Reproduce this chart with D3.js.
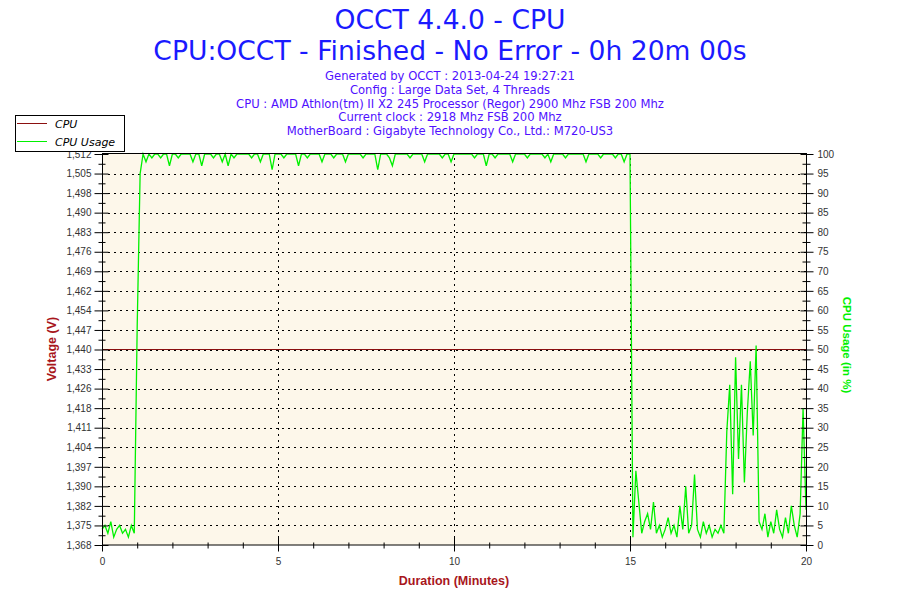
<!DOCTYPE html>
<html>
<head>
<meta charset="utf-8">
<script src="https://cdn.jsdelivr.net/npm/d3@7"></script>
<style>
  body { margin: 0; background: #fff; }
  svg text { font-family: "Liberation Sans", Arial, sans-serif; }
</style>
</head>
<body>
<div id="chart"></div>
<script>
// CPU usage in %, one reading every 5 seconds (0s .. 1200s)
const stepSeconds = 5;
const usage = [
  4, 5, 3, 6, 2, 4, 5, 3, 4, 2, 5, 3,
  56,
  95, 100, 98, 100, 99, 100, 100, 99, 100, 100,
  97, 100, 100, 99, 100, 100, 100, 100, 98, 100,
  100, 97, 100, 100, 100, 99, 100, 100, 98, 100,
  97, 100, 99, 100, 100, 100, 100, 100, 99, 100,
  100, 98, 100, 100, 100, 96, 100, 100, 100, 99,
  100, 100, 100, 100, 97, 100, 100, 99, 100, 100,
  100, 100, 98, 100, 100, 100, 99, 100, 100, 100,
  98, 100, 100, 100, 100, 100, 99, 100, 100, 100,
  100, 96, 100, 100, 100, 99, 97, 100, 100, 100,
  100, 100, 99, 100, 100, 100, 100, 98, 100, 100,
  100, 100, 100, 99, 100, 100, 98, 100, 100, 100,
  100, 100, 100, 100, 99, 100, 100, 100, 97, 100,
  100, 99, 100, 100, 100, 100, 100, 98, 100, 100,
  100, 100, 99, 100, 100, 100, 100, 100, 99, 100,
  98, 100, 100, 100, 100, 99, 100, 100, 100, 100,
  100, 100, 98, 100, 100, 100, 100, 99, 100, 100,
  100, 100, 99, 100, 100, 98, 100,
  100,
  2, 19, 11, 3, 6, 8, 4, 11, 3, 5,
  2, 4, 7, 3, 5, 2, 10, 4, 15, 3,
  5, 18, 4, 2, 6, 3, 5, 2, 4, 3,
  5, 3,
  29, 41, 13, 48, 22, 41, 16, 34, 47, 28, 51, 6,
  4, 8, 2, 6, 3, 9, 4, 2, 7, 3, 10, 5, 2, 8, 35, 9
];

// CPU core voltage (V)
const voltageMinutes = [0, 20];
const voltageValues = [1.440, 1.440];

const voltageTicks = [1.368, 1.3752, 1.3824, 1.3896, 1.3968, 1.404, 1.4112, 1.4184, 1.4256, 1.4328,
  1.440, 1.4472, 1.4544, 1.4616, 1.4688, 1.476, 1.4832, 1.4904, 1.4976, 1.5048, 1.512];
const voltageTickLabels = ["1,368", "1,375", "1,382", "1,390", "1,397", "1,404", "1,411", "1,418", "1,426", "1,433",
  "1,440", "1,447", "1,454", "1,462", "1,469", "1,476", "1,483", "1,490", "1,498", "1,505", "1,512"];
const usageTicks = [0, 5, 10, 15, 20, 25, 30, 35, 40, 45, 50, 55, 60, 65, 70, 75, 80, 85, 90, 95, 100];
const minuteTicks = [0, 5, 10, 15, 20];

const titleLines = ["OCCT 4.4.0 - CPU", "CPU:OCCT - Finished - No Error - 0h 20m 00s"];
const infoLines = [
  "Generated by OCCT : 2013-04-24 19:27:21",
  "Config : Large Data Set, 4 Threads",
  "CPU : AMD Athlon(tm) II X2 245 Processor (Regor) 2900 Mhz FSB 200 Mhz",
  "Current clock : 2918 Mhz FSB 200 Mhz",
  "MotherBoard : Gigabyte Technology Co., Ltd.: M720-US3"
];
const seriesNames = ["CPU", "CPU Usage"];

const W = 900, H = 600;
const plotLeft = 102, plotRight = 806, plotTop = 154, plotBottom = 545;
const voltColor = "#8b1010", usageColor = "#00f000", labelRed = "#a8161c";

const svg = d3.select("#chart").append("svg")
  .attr("width", W).attr("height", H);

const x = d3.scaleLinear().domain([0, 20]).range([plotLeft, plotRight]);
const yV = d3.scaleLinear().domain([1.368, 1.512]).range([plotBottom, plotTop]);
const yU = d3.scaleLinear().domain([0, 100]).range([plotBottom, plotTop]);

// plot background
svg.append("rect")
  .attr("x", plotLeft).attr("y", plotTop)
  .attr("width", plotRight - plotLeft).attr("height", plotBottom - plotTop)
  .attr("fill", "#fdf7ea");

// dotted grid
const grid = svg.append("g")
  .attr("stroke", "#000").attr("stroke-width", 1)
  .attr("stroke-dasharray", "1.5 4.5")
  .attr("shape-rendering", "crispEdges");
grid.selectAll("line.h")
  .data(voltageTicks.slice(1, -1))
  .enter().append("line")
  .attr("x1", plotLeft + 6).attr("x2", plotRight)
  .attr("y1", d => Math.round(yV(d)) + 0.5)
  .attr("y2", d => Math.round(yV(d)) + 0.5);
grid.selectAll("line.v")
  .data(minuteTicks.slice(1, -1))
  .enter().append("line")
  .attr("y1", plotTop + 4).attr("y2", plotBottom)
  .attr("x1", d => Math.round(x(d)) + 0.5)
  .attr("x2", d => Math.round(x(d)) + 0.5);

// series
svg.append("path")
  .datum(voltageMinutes.map((m, i) => [m, voltageValues[i]]))
  .attr("fill", "none").attr("stroke", voltColor).attr("stroke-width", 1.2)
  .attr("d", d3.line().x(d => x(d[0])).y(d => yV(d[1])));

svg.append("path")
  .datum(usage)
  .attr("fill", "none").attr("stroke", usageColor).attr("stroke-width", 1.3)
  .attr("d", d3.line()
    .x((d, i) => x(i * stepSeconds / 60))
    .y(d => yU(d)));

// frame
svg.append("rect")
  .attr("x", plotLeft + 0.5).attr("y", plotTop - 0.5)
  .attr("width", plotRight - plotLeft).attr("height", plotBottom - plotTop + 0.5)
  .attr("fill", "none").attr("stroke", "#000");

// axes: ticks cross the axis line, so stretch them inwards after drawing
function styleAxis(g, inner, side) {
  g.select(".domain").remove();
  const lines = g.selectAll(".tick line").attr("stroke", "#000");
  if (side === "bottom") lines.attr("y1", -inner);
  else if (side === "left") lines.attr("x1", inner);
  else lines.attr("x1", -inner);
  g.selectAll(".tick text").attr("fill", "#333").style("font-size", "10px");
}

const leftAxis = svg.append("g")
  .attr("transform", `translate(${plotLeft + 0.5},0)`)
  .call(d3.axisLeft(yV).tickValues(voltageTicks)
    .tickFormat((d, i) => voltageTickLabels[i]).tickSize(8).tickPadding(3));
styleAxis(leftAxis, 6, "left");

const leftMinor = svg.append("g")
  .attr("transform", `translate(${plotLeft + 0.5},0)`)
  .call(d3.axisLeft(yV).tickValues(d3.pairs(voltageTicks, (a, b) => (a + b) / 2))
    .tickFormat("").tickSize(4));
styleAxis(leftMinor, 3, "left");

const rightAxis = svg.append("g")
  .attr("transform", `translate(${plotRight + 0.5},0)`)
  .call(d3.axisRight(yU).tickValues(usageTicks).tickSize(7).tickPadding(4));
styleAxis(rightAxis, 6, "right");

const rightMinor = svg.append("g")
  .attr("transform", `translate(${plotRight + 0.5},0)`)
  .call(d3.axisRight(yU).tickValues(d3.pairs(usageTicks, (a, b) => (a + b) / 2))
    .tickFormat("").tickSize(4));
styleAxis(rightMinor, 4, "right");

const bottomAxis = svg.append("g")
  .attr("transform", `translate(0,${plotBottom + 0.5})`)
  .call(d3.axisBottom(x).tickValues(minuteTicks).tickSize(6).tickPadding(6));
styleAxis(bottomAxis, 8, "bottom");

const bottomMinor = svg.append("g")
  .attr("transform", `translate(0,${plotBottom + 0.5})`)
  .call(d3.axisBottom(x).tickValues(d3.range(1, 20).filter(m => !minuteTicks.includes(m)))
    .tickFormat("").tickSize(3));
styleAxis(bottomMinor, 3, "bottom");

// titles
svg.selectAll("text.title")
  .data(titleLines)
  .enter().append("text")
  .attr("x", 450).attr("y", (d, i) => 29 + i * 31)
  .attr("text-anchor", "middle")
  .attr("fill", "#1a1aff")
  .style("font-family", "'DejaVu Sans', Verdana, sans-serif")
  .style("font-size", "26.6px")
  .text(d => d);

svg.selectAll("text.info")
  .data(infoLines)
  .enter().append("text")
  .attr("x", 450).attr("y", (d, i) => 80 + i * 13.8)
  .attr("text-anchor", "middle")
  .attr("fill", "#5010ff")
  .style("font-family", "'DejaVu Sans', Verdana, sans-serif")
  .style("font-size", "11.6px")
  .text(d => d);

// axis titles
svg.append("text")
  .attr("transform", "translate(56,349) rotate(-90)")
  .attr("text-anchor", "middle")
  .attr("fill", labelRed).style("font-weight", "bold").style("font-size", "12.5px")
  .text("Voltage (V)");

svg.append("text")
  .attr("x", 454).attr("y", 585)
  .attr("text-anchor", "middle")
  .attr("fill", labelRed).style("font-weight", "bold").style("font-size", "12.5px")
  .text("Duration (Minutes)");

svg.append("text")
  .attr("transform", "translate(843,345) rotate(90)")
  .attr("text-anchor", "middle")
  .attr("fill", usageColor).style("font-weight", "bold").style("font-size", "11.5px")
  .text("CPU Usage (in %)");

// legend
const legend = svg.append("g");
legend.append("rect")
  .attr("x", 15.5).attr("y", 115.5).attr("width", 109).attr("height", 36)
  .attr("fill", "#fff").attr("stroke", "#000");
const items = legend.selectAll("g.item")
  .data(seriesNames)
  .enter().append("g")
  .attr("transform", (d, i) => `translate(0,${123.5 + i * 18})`);
items.append("line")
  .attr("x1", 17).attr("x2", 47)
  .attr("stroke", (d, i) => i === 0 ? voltColor : usageColor);
items.append("text")
  .attr("x", 55).attr("y", 4)
  .style("font-family", "'DejaVu Sans', Verdana, sans-serif")
  .style("font-size", "11px").style("font-style", "italic")
  .attr("fill", "#000")
  .text(d => d);
</script>
</body>
</html>
